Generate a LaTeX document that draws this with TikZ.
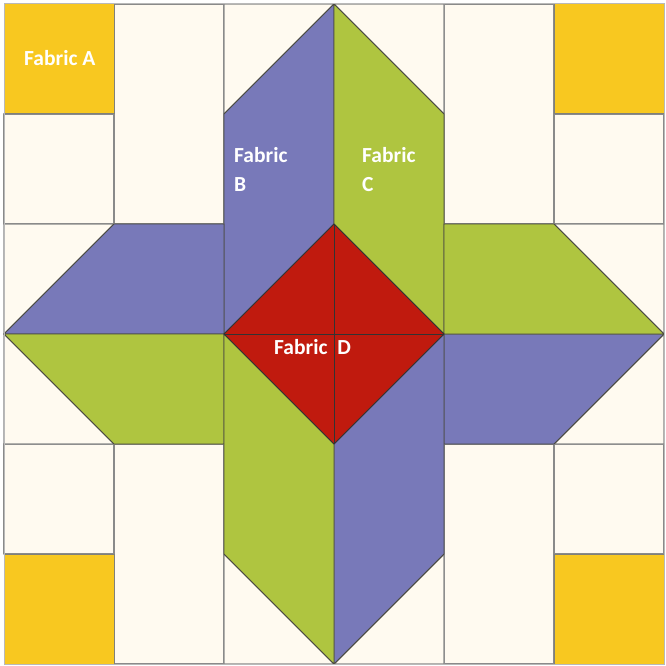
\documentclass[tikz,border=0pt]{standalone}
\usepackage{fontspec}
\setsansfont{Carlito}
\definecolor{creamc}{HTML}{FFFAF0}
\definecolor{yellowc}{HTML}{F8C820}
\definecolor{bluec}{HTML}{7879B9}
\definecolor{greenc}{HTML}{AFC540}
\definecolor{redc}{HTML}{C01A0E}
\definecolor{edgegray}{HTML}{8A8A8A}
\definecolor{darkedge}{HTML}{4A4A40}
\begin{document}
\begin{tikzpicture}[x=1pt,y=-1pt,
  cream/.style={fill=creamc,draw=edgegray,line width=1.4pt,line join=round},
  yel/.style={fill=yellowc,draw=darkedge!70,line width=1pt},
  blu/.style={fill=bluec,draw=darkedge,line width=0.9pt,line join=round},
  grn/.style={fill=greenc,draw=darkedge,line width=0.9pt,line join=round},
  rd/.style={fill=redc,draw=black!80,line width=0.9pt,line join=round},
  lbl/.style={font=\sffamily\bfseries\fontsize{21.5}{25}\selectfont,text=white,inner sep=0pt,anchor=west}]
\useasboundingbox (0,0) rectangle (665,666);
% cream squares and rectangles
\draw[cream] (4,114) rectangle (114,224);
\draw[cream] (554,114) rectangle (664,224);
\draw[cream] (4,444) rectangle (114,554);
\draw[cream] (554,444) rectangle (664,554);
\draw[cream] (114,4) rectangle (224,224);
\draw[cream] (444,4) rectangle (554,224);
\draw[cream] (114,444) rectangle (224,664);
\draw[cream] (444,444) rectangle (554,664);
% cream triangles
\draw[cream] (224,4) -- (334,4) -- (224,114) -- cycle;
\draw[cream] (334,4) -- (444,4) -- (444,114) -- cycle;
\draw[cream] (4,224) -- (114,224) -- (4,334) -- cycle;
\draw[cream] (4,334) -- (114,444) -- (4,444) -- cycle;
\draw[cream] (554,224) -- (664,224) -- (664,334) -- cycle;
\draw[cream] (664,334) -- (664,444) -- (554,444) -- cycle;
\draw[cream] (224,554) -- (334,664) -- (224,664) -- cycle;
\draw[cream] (444,554) -- (444,664) -- (334,664) -- cycle;
% yellow corners
\draw[yel] (4,4) rectangle (114,114);
\draw[yel] (554,4) rectangle (664,114);
\draw[yel] (4,554) rectangle (114,664);
\draw[yel] (554,554) rectangle (664,664);
% blue
\draw[blu] (224,114) -- (334,4) -- (334,224) -- (224,334) -- cycle;
\draw[blu] (4,334) -- (114,224) -- (224,224) -- (224,334) -- cycle;
\draw[blu] (444,334) -- (664,334) -- (554,444) -- (444,444) -- cycle;
\draw[blu] (334,444) -- (444,334) -- (444,554) -- (334,664) -- cycle;
% green
\draw[grn] (334,4) -- (444,114) -- (444,334) -- (334,224) -- cycle;
\draw[grn] (4,334) -- (224,334) -- (224,444) -- (114,444) -- cycle;
\draw[grn] (444,224) -- (554,224) -- (664,334) -- (444,334) -- cycle;
\draw[grn] (224,334) -- (334,444) -- (334,664) -- (224,554) -- cycle;
% red diamond
\draw[rd] (224,334) -- (334,224) -- (444,334) -- (334,444) -- cycle;
\draw[black!80,line width=0.9pt] (224,334) -- (444,334);
\draw[black!80,line width=0.9pt] (334,224) -- (334,444);
% outer border
\draw[edgegray!60,line width=1pt] (4,4) rectangle (664,664);
% labels
\node[lbl] (fa) at (24,58) {Fabric A};
\node[lbl] (fb1) at (234,155) {Fabric};
\node[lbl] (fb2) at (234,185) {B};
\node[lbl] (fc1) at (362,155) {Fabric};
\node[lbl] (fc2) at (362,185) {C};
\node[lbl] (fd) at (274,347) {Fabric\ \ D};
\end{tikzpicture}
\end{document}
